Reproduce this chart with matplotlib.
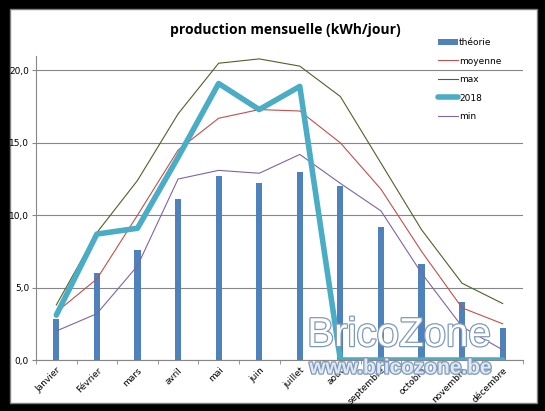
import matplotlib
matplotlib.use("Agg")
import matplotlib.pyplot as plt
import matplotlib.patheffects as pe
from matplotlib.patches import Rectangle
from matplotlib.ticker import FuncFormatter, FixedLocator
import numpy as np

# data
mois = ["Janvier", "Février", "mars", "avril", "mai", "juin", "juillet",
        "août", "septembre", "octobre", "novembre", "décembre"]
theorie = [2.8, 6.0, 7.6, 11.1, 12.7, 12.2, 13.0, 12.0, 9.2, 6.6, 4.0, 2.2]
moyenne = [3.3, 5.6, 10.0, 14.5, 16.7, 17.3, 17.2, 15.0, 11.8, 7.5, 3.6, 2.5]
maxi = [3.8, 8.8, 12.4, 17.0, 20.5, 20.8, 20.3, 18.2, 13.6, 9.0, 5.3, 3.9]
prod_2018 = [3.1, 8.7, 9.1, 14.0, 19.1, 17.3, 18.9, 0, 0, 0, 0, 0]
mini = [2.0, 3.2, 6.5, 12.5, 13.1, 12.9, 14.2, 12.2, 10.3, 6.0, 2.3, 0.7]

W, H = 545, 411
fig = plt.figure(figsize=(W / 100, H / 100), dpi=100, facecolor="black")
fig.patches.append(Rectangle((10 / W, 1 - 403 / H), 527 / W, 394 / H,
                             transform=fig.transFigure, facecolor="white",
                             edgecolor="#808080", linewidth=1, zorder=-5))

ax = fig.add_axes([36 / W, 1 - 360 / H, 487 / W, 304 / H])
ax.set_facecolor("none")
x = np.arange(len(mois))

b = ax.bar(x, theorie, width=0.15, color="#4f81bd", label="théorie", zorder=2)
l1, = ax.plot(x, moyenne, color="#c0504d", lw=0.8, label="moyenne", zorder=3)
l2, = ax.plot(x, maxi, color="#4f6228", lw=0.8, label="max", zorder=3)
l3, = ax.plot(x, prod_2018, color="#4bacc6", lw=4, label="2018", zorder=4,
              solid_capstyle="round", solid_joinstyle="round")
l4, = ax.plot(x, mini, color="#8064a2", lw=0.8, label="min", zorder=3)

ax.set_xlim(-0.5, len(mois) - 0.5)
ax.set_ylim(0, 21)
ax.set_yticks([0, 5, 10, 15, 20])
ax.yaxis.set_major_formatter(FuncFormatter(lambda v, p: f"{v:.1f}".replace(".", ",")))
ax.grid(axis="y", color="#868686", lw=0.8, zorder=1)
ax.set_axisbelow(True)
ax.set_xticks(x)
ax.set_xticklabels(mois, rotation=45, ha="right", rotation_mode="anchor")
ax.xaxis.set_minor_locator(FixedLocator(np.arange(-0.5, len(mois), 1)))
ax.tick_params(axis="x", which="major", length=0, labelsize=6.5, pad=4)
ax.tick_params(axis="x", which="minor", length=3, color="#868686")
ax.tick_params(axis="y", length=3, color="#868686", labelsize=6.5, pad=2)
for s in ["top", "right"]:
    ax.spines[s].set_visible(False)
for s in ["left", "bottom"]:
    ax.spines[s].set_color("#868686")
    ax.spines[s].set_linewidth(0.8)

fig.text(285 / W, 1 - 30 / H, "production mensuelle (kWh/jour)",
         ha="center", va="center", fontsize=10, fontweight="bold",
         family="Open Sans")

leg = ax.legend([b, l1, l2, l3, l4], ["théorie", "moyenne", "max", "2018", "min"],
                loc="upper left", bbox_to_anchor=(430 / W, 1 - 30 / H),
                bbox_transform=fig.transFigure, frameon=False, fontsize=6.5,
                labelspacing=1.05, handlelength=2.2, handletextpad=0.1)

# watermark
outline = [pe.withStroke(linewidth=1.8, foreground="#7f9ab8")]
fig.text(399 / W, 1 - 335 / H, "BricoZone", ha="center", va="center",
         fontsize=29, color="white", family="Liberation Sans",
         path_effects=outline, zorder=10)
fig.text(401 / W, 1 - 368 / H, "www.bricozone.be", ha="center", va="center",
         fontsize=15, fontweight="bold", color="#dfe9f5",
         family="Liberation Sans", path_effects=outline, zorder=10)

fig.savefig("out.png", dpi=100, facecolor="black")
